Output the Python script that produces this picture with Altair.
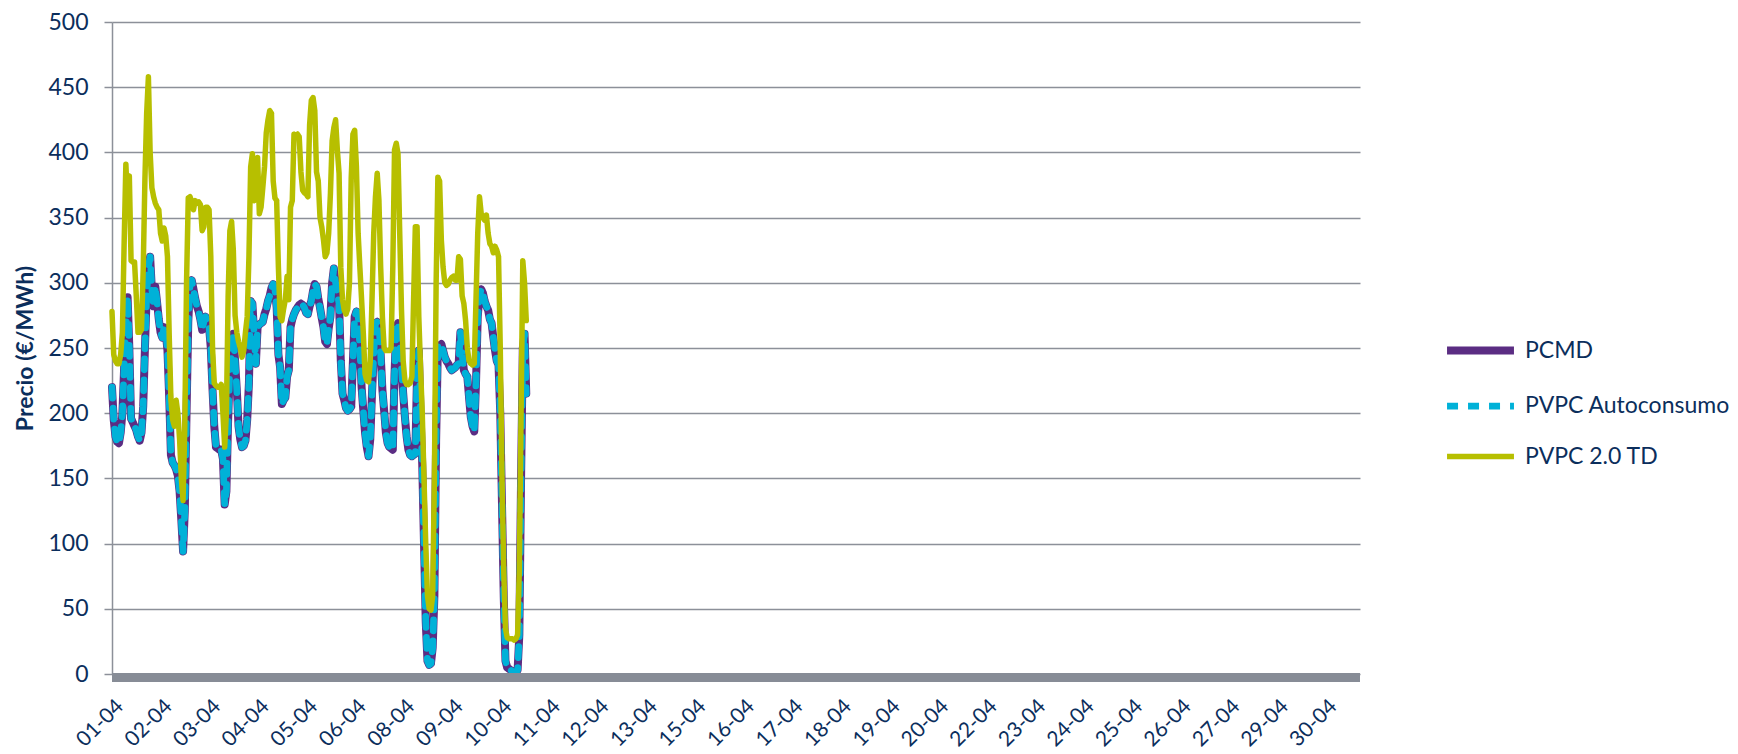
import altair as alt
import pandas as pd

series_names = ["PCMD", "PVPC Autoconsumo", "PVPC 2.0 TD"]

tick_labels = ["01-04", "02-04", "03-04", "04-04", "05-04", "06-04", "08-04", "09-04",
               "10-04", "11-04", "12-04", "13-04", "15-04", "16-04", "17-04", "18-04",
               "19-04", "20-04", "22-04", "23-04", "24-04", "25-04", "26-04", "27-04",
               "29-04", "30-04"]
tick_hours = [0, 28, 56, 84, 112, 140, 168, 196, 224, 252, 280, 308, 336, 364, 392,
              420, 448, 476, 504, 532, 560, 588, 616, 644, 672, 700]

hours = list(range(240))

pcmd = [
    220, 195, 182, 178, 177, 185, 200, 235, 265, 289, 250, 196, 193, 190, 187, 182, 179, 185, 205, 250, 290, 312, 320, 295,
    282, 297, 285, 272, 262, 258, 266, 262, 248, 212, 168, 162, 160, 157, 152, 140, 118, 94, 125, 200, 270, 298, 302, 295,
    288, 282, 278, 272, 264, 270, 274, 270, 266, 250, 218, 190, 174, 173, 172, 172, 165, 130, 140, 195, 235, 245, 261, 240,
    218, 190, 180, 174, 175, 179, 195, 223, 286, 284, 261, 238, 266, 268, 269, 270, 276, 280, 286, 290, 296, 299, 295, 281,
    245, 235, 207, 210, 212, 228, 233, 266, 272, 276, 279, 281, 283, 284, 283, 281, 277, 276, 282, 286, 294, 299, 297, 288,
    281, 273, 266, 255, 253, 265, 274, 300, 311, 300, 292, 284, 240, 215, 210, 204, 202, 203, 205, 240, 274, 278, 277, 250,
    220, 202, 185, 174, 167, 180, 215, 245, 269, 270, 269, 245, 218, 202, 185, 177, 174, 173, 172, 230, 266, 269, 255, 235,
    215, 197, 182, 172, 168, 167, 168, 169, 230, 248, 200, 160, 100, 40, 10, 7, 8, 20, 60, 180, 251, 252, 253, 248,
    243, 240, 238, 235, 233, 234, 235, 237, 238, 262, 245, 233, 230, 228, 212, 197, 190, 186, 223, 274, 290, 295, 292, 286,
    282, 279, 272, 269, 258, 248, 240, 237, 200, 130, 60, 10, 5, 4, 3, 2, 1, 1, 3, 30, 150, 250, 261, 215,
]

pvpc_auto = [
    220, 195, 182, 178, 177, 185, 200, 235, 265, 289, 250, 196, 193, 190, 187, 182, 179, 185, 205, 250, 290, 312, 320, 295,
    282, 297, 285, 272, 262, 258, 266, 262, 248, 212, 168, 162, 160, 157, 152, 140, 118, 94, 125, 200, 270, 298, 302, 295,
    288, 282, 278, 272, 264, 270, 274, 270, 266, 250, 218, 190, 174, 173, 172, 172, 165, 130, 140, 195, 235, 245, 261, 240,
    218, 190, 180, 174, 175, 179, 195, 223, 286, 284, 261, 238, 266, 268, 269, 270, 276, 280, 286, 290, 296, 299, 295, 281,
    245, 235, 207, 210, 212, 228, 233, 266, 272, 276, 279, 281, 283, 284, 283, 281, 277, 276, 282, 286, 294, 299, 297, 288,
    281, 273, 266, 255, 253, 265, 274, 300, 311, 300, 292, 284, 240, 215, 210, 204, 202, 203, 205, 240, 274, 278, 277, 250,
    220, 202, 185, 174, 167, 180, 215, 245, 269, 270, 269, 245, 218, 202, 185, 177, 174, 173, 172, 230, 266, 269, 255, 235,
    215, 197, 182, 172, 168, 167, 168, 169, 230, 248, 200, 160, 100, 40, 10, 7, 8, 20, 60, 180, 251, 252, 253, 248,
    243, 240, 238, 235, 233, 234, 235, 237, 238, 262, 245, 233, 230, 228, 212, 197, 190, 186, 223, 274, 290, 295, 292, 286,
    282, 279, 272, 269, 258, 248, 240, 237, 200, 130, 60, 10, 5, 4, 3, 2, 1, 1, 3, 30, 150, 250, 261, 215,
]

pvpc_20td = [
    278, 245, 240, 238, 238, 245, 262, 330, 391, 360, 382, 317, 316, 316, 290, 262, 262, 264, 310, 380, 430, 458, 400, 373,
    366, 361, 358, 356, 338, 332, 342, 336, 320, 260, 210, 195, 190, 210, 200, 180, 150, 133, 190, 300, 365, 366, 362, 356,
    363, 361, 362, 360, 340, 343, 358, 358, 356, 320, 250, 223, 221, 220, 220, 222, 200, 174, 200, 290, 340, 347, 325, 275,
    262, 255, 250, 243, 248, 262, 274, 320, 389, 399, 363, 372, 396, 353, 358, 373, 389, 415, 425, 432, 430, 378, 365, 363,
    312, 274, 271, 280, 287, 305, 287, 358, 363, 414, 413, 414, 412, 385, 371, 369, 368, 366, 421, 440, 442, 432, 385, 378,
    350, 343, 333, 320, 323, 338, 368, 409, 419, 425, 402, 384, 312, 287, 279, 276, 280, 300, 380, 414, 417, 389, 338, 312,
    287, 261, 230, 225, 224, 240, 287, 338, 366, 384, 363, 312, 274, 250, 248, 248, 248, 250, 312, 402, 407, 399, 338, 280,
    240, 225, 222, 222, 223, 228, 287, 343, 343, 274, 235, 200, 150, 100, 60, 50, 49, 60, 150, 300, 381, 378, 333, 312,
    300, 298, 299, 302, 304, 305, 302, 302, 320, 318, 290, 284, 271, 250, 240, 238, 237, 238, 287, 338, 366, 353, 350, 348,
    352, 338, 330, 328, 323, 328, 325, 320, 250, 150, 80, 35, 28, 27, 27, 27, 26, 27, 30, 80, 200, 317, 300, 271,
]

rows = []
for name, vals in zip(series_names, [pcmd, pvpc_auto, pvpc_20td]):
    for h, v in zip(hours, vals):
        rows.append({"hora": h, "precio": v, "serie": name})
df = pd.DataFrame(rows)

NAVY = "#0b2e5c"
GRID = "#8c9099"
BAND = "#878c96"
colors = ["#5b2d83", "#00b1d8", "#b7bf00"]
dashes = [[1, 0], [11, 10], [1, 0]]
widths = [8, 5.5, 7]

label_expr = "[" + ",".join("'%s'" % t for t in tick_labels) + "][round(datum.value/28)]"

x_enc = alt.X(
    "hora:Q",
    scale=alt.Scale(domain=[0, 720], nice=False, zero=False),
    axis=alt.Axis(
        values=tick_hours, labelExpr=label_expr, labelAngle=-45, labelAlign="right",
        labelBaseline="middle", ticks=False, domain=False, grid=False, labelPadding=29,
        labelOffset=8, labelFontSize=21, labelColor=NAVY, labelFlush=False,
        labelOverlap=False, labelBound=False, title=None,
    ),
)
y_enc = alt.Y(
    "precio:Q",
    scale=alt.Scale(domain=[0, 500], nice=False),
    axis=alt.Axis(
        values=list(range(0, 501, 50)), tickSize=8, tickColor=GRID, tickWidth=1.5,
        domainColor=GRID, domainWidth=1.5, gridColor=GRID, gridWidth=1.5,
        labelFontSize=23, labelColor=NAVY, labelPadding=16,
        title="Precio (€/MWh)", titleFontSize=23, titleFontWeight="bold",
        titleColor=NAVY, titlePadding=10,
    ),
)

color_enc = alt.Color("serie:N", scale=alt.Scale(domain=series_names, range=colors),
                      legend=alt.Legend(title=None))
dash_enc = alt.StrokeDash("serie:N", scale=alt.Scale(domain=series_names, range=dashes),
                          legend=alt.Legend(title=None))
width_enc = alt.StrokeWidth("serie:N", scale=alt.Scale(domain=series_names, range=widths),
                            legend=alt.Legend(title=None))

base = alt.Chart(df)

band = alt.Chart(pd.DataFrame({"v": [0]})).mark_rule(
    color=BAND, strokeWidth=9, yOffset=3.5
).encode(x=alt.datum(0), x2=alt.datum(720), y=alt.datum(0))

layers = []
for name in series_names:
    layers.append(
        base.transform_filter(alt.datum.serie == name)
        .mark_line(strokeCap="round", strokeJoin="round")
        .encode(x=x_enc, y=y_enc, color=color_enc, strokeDash=dash_enc, strokeWidth=width_enc)
    )

chart = alt.layer(*layers, band).properties(
    width=1248,
    height=652,
    autosize=alt.AutoSizeParams(type="none"),
    padding={"left": 104, "top": 14, "right": 370, "bottom": 78},
    background="white",
).configure(font="Lato").configure_view(stroke=None).configure_legend(
    orient="none", legendX=1356, legendY=316, symbolType="M-4,0H4", symbolSize=280,
    labelFontSize=23, labelColor=NAVY, labelOffset=32, rowPadding=25, padding=0,
    symbolOffset=0, labelLimit=0,
)

chart.save("out.html", embed_options={"renderer": "svg", "actions": False})
